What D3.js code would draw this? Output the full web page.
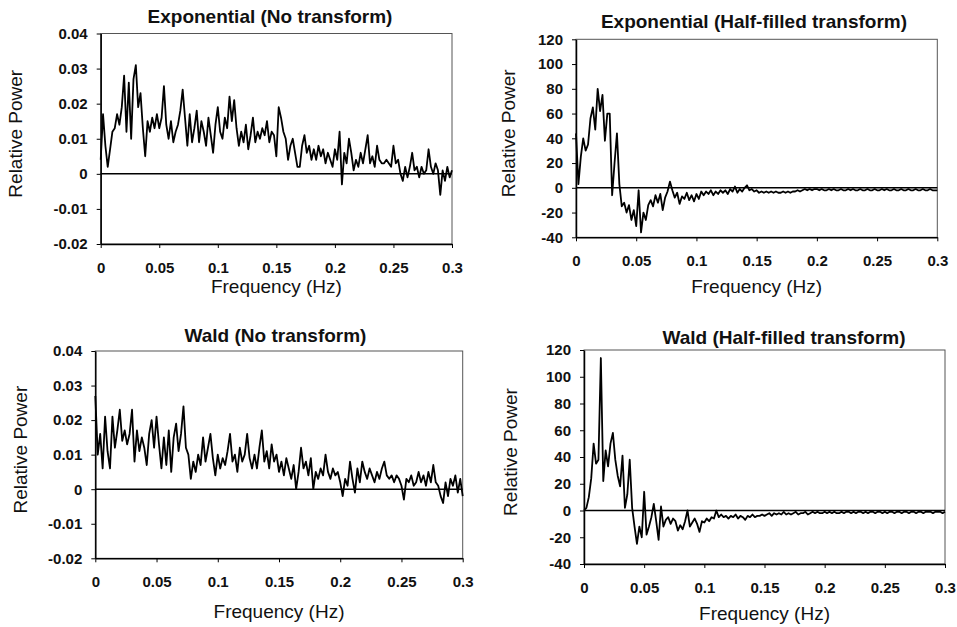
<!DOCTYPE html>
<html>
<head>
<meta charset="utf-8">
<script src="https://cdn.jsdelivr.net/npm/d3@7"></script>
<style>
  body { margin: 0; background: #fff; }
  svg text { font-family: "Liberation Sans", Arial, sans-serif; fill: #111; }
  .tick text { font-size: 15px; font-weight: bold; }
  .title { font-size: 19px; font-weight: bold; }
  .axis-title { font-size: 19px; }
</style>
</head>
<body>
<svg id="chart" width="957" height="627"></svg>
<script>
// spectra are sampled every 0.002 Hz from 0 to 0.3 Hz
const FREQ_STEP = 0.002;

const xTickValues = [0, 0.05, 0.1, 0.15, 0.2, 0.25, 0.3];
const xTickLabels = ["0", "0.05", "0.1", "0.15", "0.2", "0.25", "0.3"];

const rawTickValues = [-0.02, -0.01, 0, 0.01, 0.02, 0.03, 0.04];
const rawTickLabels = ["-0.02", "-0.01", "0", "0.01", "0.02", "0.03", "0.04"];

const halfTickValues = [-40, -20, 0, 20, 40, 60, 80, 100, 120];
const halfTickLabels = ["-40", "-20", "0", "20", "40", "60", "80", "100", "120"];

const expNoTransform = [
  0.004, 0.017, 0.008, 0.002, 0.007, 0.012, 0.013, 0.017, 0.014, 0.019,
  0.028, 0.012, 0.026, 0.010, 0.027, 0.031, 0.019, 0.023, 0.013, 0.005,
  0.015, 0.012, 0.016, 0.013, 0.017, 0.013, 0.016, 0.025, 0.014, 0.010,
  0.015, 0.009, 0.012, 0.014, 0.018, 0.024, 0.016, 0.008, 0.017, 0.009,
  0.013, 0.018, 0.009, 0.015, 0.012, 0.008, 0.016, 0.011, 0.006, 0.014,
  0.019, 0.012, 0.010, 0.016, 0.013, 0.022, 0.015, 0.021, 0.013, 0.008,
  0.012, 0.009, 0.014, 0.007, 0.011, 0.016, 0.009, 0.012, 0.010, 0.013,
  0.011, 0.015, 0.009, 0.012, 0.011, 0.005, 0.019, 0.016, 0.012, 0.010,
  0.004, 0.008, 0.010, 0.006, 0.002, 0.002, 0.008, 0.011, 0.006, 0.008,
  0.004, 0.007, 0.004, 0.008, 0.005, 0.007, 0.003, 0.006, 0.004, 0.002,
  0.007, 0.004, 0.012, -0.003, 0.006, 0.003, 0.010, 0.006, 0.001, 0.004,
  0.002, 0.006, 0.003, 0.007, 0.011, 0.003, 0.005, 0.002, 0.008, 0.004,
  0.003, 0.003, 0.004, 0.003, 0.002, 0.008, 0.003, 0.004, 0.000, -0.002,
  0.002, -0.001, 0.002, 0.006, 0.001, 0.002, -0.001, 0.002, 0.000, 0.001,
  0.007, 0.002, 0.000, 0.003, 0.001, -0.006, 0.001, -0.002, 0.002, -0.001,
  0.001
];

const expHalfFilled = [
  44, 3, 25, 40, 30, 35, 56, 65, 47, 80,
  62, 75, 38, 60, 60, -6, 20, 44, 3, -15,
  -12, -20, -14, -26, -18, -31, -2, -36, -20, -26,
  -14, -10, -15, -6, -12, -5, -18, -8, -3, 5,
  -2, -8, -4, -13, -7, -9, -4, -10, -6, -11,
  -5, -9, -3, -6, -3, -5, -2, -6, -3, -5,
  -2, -4, -2, -5, -1, -3, 1, -4, -1, -3,
  0, 2, -2, -1, -3, -2, -4, -3, -4, -3,
  -4, -3, -4, -3, -4, -4, -3, -4, -3, -4,
  -3, -3, -2, -3, -2, -1, -2, -1, -2, -1,
  -1, -2, -1, -2, -2, -1, -2, -1, -2, -2,
  -1, -2, -2, -1, -2, -1, -2, -2, -1, -2,
  -2, -1, -2, -2, -1, -2, -2, -1, -2, -1,
  -2, -2, -1, -2, -2, -1, -2, -2, -1, -2,
  -2, -1, -2, -2, -1, -2, -2, -1, -2, -2,
  -2
];

const waldNoTransform = [
  0.027, 0.010, 0.016, 0.006, 0.021, 0.011, 0.006, 0.021, 0.012, 0.017,
  0.023, 0.014, 0.017, 0.013, 0.016, 0.023, 0.008, 0.017, 0.011, 0.015,
  0.012, 0.007, 0.016, 0.020, 0.012, 0.021, 0.013, 0.006, 0.015, 0.007,
  0.017, 0.005, 0.015, 0.019, 0.011, 0.016, 0.024, 0.012, 0.010, 0.003,
  0.008, 0.005, 0.010, 0.007, 0.015, 0.008, 0.012, 0.016, 0.009, 0.004,
  0.010, 0.006, 0.009, 0.007, 0.011, 0.016, 0.008, 0.010, 0.005, 0.012,
  0.008, 0.010, 0.016, 0.009, 0.006, 0.010, 0.006, 0.012, 0.017, 0.008,
  0.011, 0.006, 0.013, 0.008, 0.010, 0.005, 0.008, 0.004, 0.009, 0.006,
  0.003, 0.007, 0.000, 0.005, 0.012, 0.006, 0.008, 0.004, 0.009, 0.000,
  0.005, 0.003, 0.006, 0.004, 0.010, 0.005, 0.003, 0.006, 0.004, 0.005,
  0.002, -0.002, 0.003, 0.001, 0.008, 0.003, -0.001, 0.006, 0.002, 0.008,
  0.005, 0.003, 0.006, 0.004, 0.002, 0.005, 0.003, 0.006, 0.008, 0.004,
  0.003, 0.004, 0.002, 0.004, 0.003, 0.001, -0.003, 0.003, 0.002, 0.004,
  0.001, 0.002, 0.005, 0.002, 0.004, 0.001, 0.005, 0.002, 0.007, 0.002,
  0.001, -0.002, -0.004, 0.002, -0.002, 0.003, 0.001, 0.004, -0.001, 0.003,
  -0.002
];

const waldHalfFilled = [
  0, 2, 10, 24, 50, 35, 38, 114, 22, 45,
  33, 50, 58, 38, 26, 18, 41, 2, 12, 38,
  2, -12, -25, -12, -20, 14, -18, -12, -5, 5,
  -8, -22, 3, -12, -7, -5, -10, -6, -8, -15,
  -11, -14, -8, 0, -12, -9, -6, -10, -16, -8,
  -9, -6, -8, -5, -6, 0, -5, -3, -5, -4,
  -6, -4, -5, -3, -6, -4, -5, -7, -4, -5,
  -3, -5, -4, -4, -3, -4, -3, -2, -4, -2,
  -3, -2, -3, -1, -3, -2, -3, -2, -1, -3,
  -2, -2, -1, -3, -2, -1, -2, -1, -2, -2,
  -1, -2, -1, -2, -1, -2, -2, -1, -2, -1,
  -1, -2, -1, -2, -1, -1, -2, -1, -2, -1,
  -1, -2, -1, -1, -2, -1, -2, -1, -1, -2,
  -1, -1, -2, -1, -1, -2, -1, -1, -2, -1,
  -1, -2, -1, -1, -1, -2, -1, -1, -1, -2,
  -1
];

const panels = [
  { title: "Exponential (No transform)", values: expNoTransform,
    yTicks: rawTickValues, yLabels: rawTickLabels,
    left: 100.7, right: 452, top: 33.5, bottom: 244,
    titleX: 270, titleY: 23, xTitleY: 293, yTitleX: 15 },
  { title: "Exponential (Half-filled transform)", values: expHalfFilled,
    yTicks: halfTickValues, yLabels: halfTickLabels,
    left: 576, right: 937.3, top: 39.3, bottom: 237.3,
    titleX: 754, titleY: 28, xTitleY: 293, yTitleX: 508 },
  { title: "Wald (No transform)", values: waldNoTransform,
    yTicks: rawTickValues, yLabels: rawTickLabels,
    left: 95.3, right: 462.7, top: 351, bottom: 558.3,
    titleX: 275.5, titleY: 341.5, xTitleY: 618, yTitleX: 20 },
  { title: "Wald (Half-filled transform)", values: waldHalfFilled,
    yTicks: halfTickValues, yLabels: halfTickLabels,
    left: 584, right: 945, top: 350, bottom: 564,
    titleX: 784, titleY: 344, xTitleY: 620, yTitleX: 510 }
];

const svg = d3.select("#chart");

panels.forEach(function (p) {
  const g = svg.append("g");

  const x = d3.scaleLinear().domain([0, 0.3]).range([p.left, p.right]);
  const y = d3.scaleLinear()
    .domain(d3.extent(p.yTicks))
    .range([p.bottom, p.top]);

  // thin frame round the plot
  g.append("rect")
    .attr("x", p.left).attr("y", p.top)
    .attr("width", p.right - p.left).attr("height", p.bottom - p.top)
    .attr("fill", "none").attr("stroke", "#555").attr("stroke-width", 1);

  const xAxis = d3.axisBottom(x)
    .tickValues(xTickValues)
    .tickFormat(function (d, i) { return xTickLabels[i]; })
    .tickSizeInner(4).tickSizeOuter(0).tickPadding(14);

  const yAxis = d3.axisLeft(y)
    .tickValues(p.yTicks)
    .tickFormat(function (d, i) { return p.yLabels[i]; })
    .tickSizeInner(4).tickSizeOuter(0).tickPadding(9);

  g.append("g")
    .attr("transform", "translate(0," + p.bottom + ")")
    .call(xAxis)
    .call(function (a) { a.select(".domain").attr("stroke-width", 1.5); });

  g.append("g")
    .attr("transform", "translate(" + p.left + ",0)")
    .call(yAxis)
    .call(function (a) { a.select(".domain").attr("stroke-width", 1.5); });

  g.selectAll(".tick text").attr("fill", "#111");

  // zero line
  g.append("line")
    .attr("x1", x(0)).attr("x2", x(0.3))
    .attr("y1", y(0)).attr("y2", y(0))
    .attr("stroke", "#000").attr("stroke-width", 1.5);

  const line = d3.line()
    .x(function (d, i) { return x(i * FREQ_STEP); })
    .y(function (d) { return y(d); });

  g.append("path")
    .datum(p.values)
    .attr("d", line)
    .attr("fill", "none")
    .attr("stroke", "#000")
    .attr("stroke-width", 1.8)
    .attr("stroke-linejoin", "round");

  g.append("text")
    .attr("class", "title")
    .attr("x", p.titleX).attr("y", p.titleY)
    .attr("text-anchor", "middle")
    .text(p.title);

  g.append("text")
    .attr("class", "axis-title")
    .attr("x", (p.left + p.right) / 2).attr("y", p.xTitleY)
    .attr("text-anchor", "middle")
    .text("Frequency (Hz)");

  const midY = (p.top + p.bottom) / 2 - 5;
  g.append("text")
    .attr("class", "axis-title")
    .attr("transform", "translate(" + p.yTitleX + "," + midY + ") rotate(-90)")
    .attr("dy", "0.35em")
    .attr("text-anchor", "middle")
    .text("Relative Power");
});
</script>
</body>
</html>
